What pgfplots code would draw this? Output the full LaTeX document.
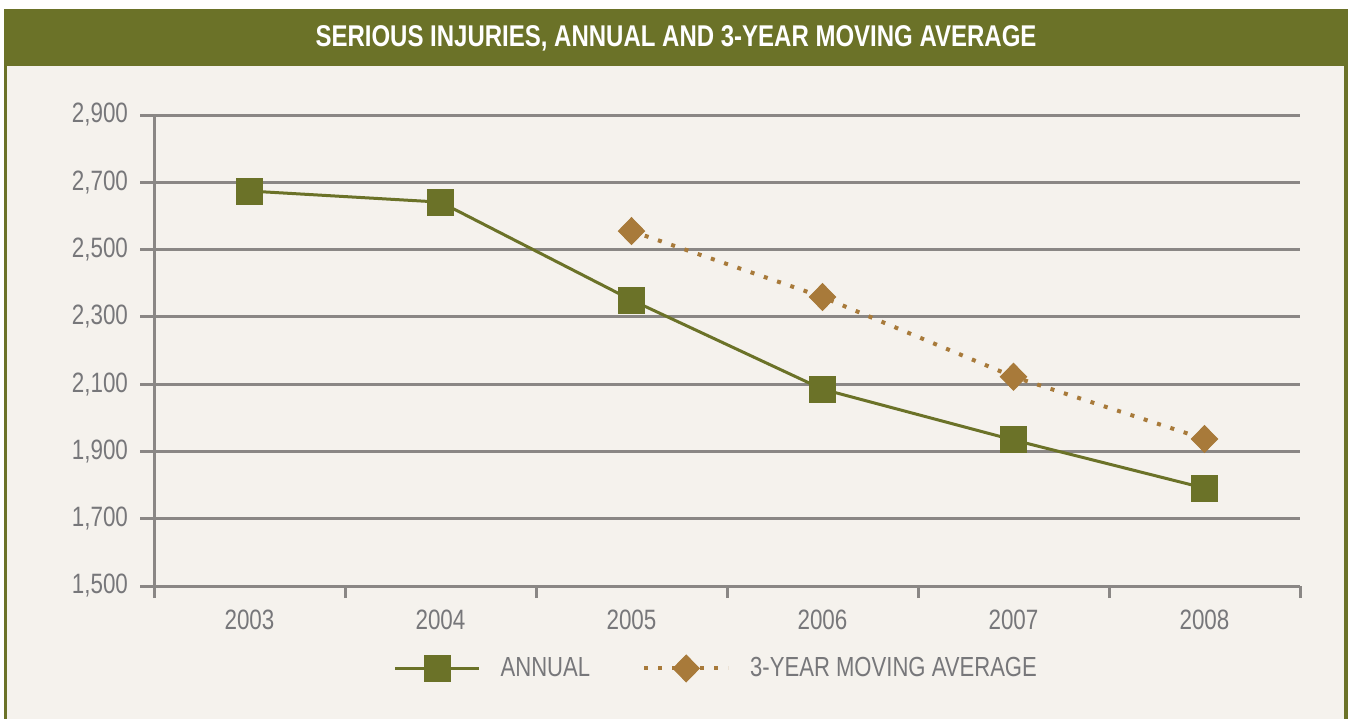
\documentclass[border=0pt]{standalone}
\usepackage{pgfplots}
\pgfplotsset{compat=1.18}
\usepackage{fontspec}
\setmainfont{Liberation Sans}[FakeStretch=0.8]
\definecolor{olive}{HTML}{6B7228}
\definecolor{bronze}{HTML}{A87A3A}
\definecolor{paper}{HTML}{F5F2ED}
\definecolor{rule}{HTML}{8A8785}
\definecolor{ink}{HTML}{77777A}
\begin{document}
\begin{tikzpicture}
% frame, 1 px of the reference = 0.5pt, origin at the axis corner
\fill[white] (-77pt,-66.5pt) rectangle (599pt,293pt);
\fill[olive] (-75pt,-66.5pt) rectangle (597pt,288.5pt);
\fill[paper] (-73.5pt,-66.5pt) rectangle (595pt,260pt);
\node[text=white, font=\bfseries\fontsize{15}{17}\selectfont] at (261pt,274pt)
  {SERIOUS INJURIES, ANNUAL AND 3-YEAR MOVING AVERAGE};
\begin{axis}[
    scale only axis,
    width=573pt, height=235.5pt,
    xmin=-0.5, xmax=5.5, ymin=1500, ymax=2900,
    axis x line*=bottom, axis y line*=left,
    axis line style={rule, line width=1.5pt, -},
    xtick={0,...,5},
    xticklabels={2003,2004,2005,2006,2007,2008},
    minor xtick={-0.5,0.5,...,5.5},
    major x tick style={draw=none},
    minor x tick style={rule, line width=1.5pt},
    minor tick length=6pt,
    ytick={1500,1700,...,2900},
    y tick style={rule, line width=1.5pt},
    major tick length=7pt,
    tick align=outside,
    ymajorgrids=true,
    grid style={rule, line width=1.5pt},
    /pgf/number format/assume math mode=true,
    /pgf/number format/1000 sep={,},
    tick label style={text=ink, font=\fontsize{14}{16}\selectfont},
    yticklabel style={xshift=-2.5pt},
    xticklabel style={yshift=-1.5pt},
    clip=false,
    legend columns=2,
    legend style={draw=none, fill=none, at={(0.4915,-0.175)}, anchor=center,
      text=ink, font=\fontsize{13.8}{16}\selectfont,
      /tikz/every odd column/.append style={column sep=8pt},
      /tikz/every even column/.append style={column sep=24pt}},
    legend image code/.code={\draw[mark repeat=2,mark phase=2,#1]
      plot coordinates {(0pt,0pt) (21pt,0pt) (42pt,0pt)};},
  ]
\addplot[olive, line width=1.5pt, mark=square*, mark size=6.5pt,
  mark options={fill=olive, draw=olive, solid, line width=0.5pt}] coordinates {
  (0,2674) (1,2641) (2,2350) (3,2085) (4,1934) (5,1791)};
\addlegendentry{ANNUAL}
\addplot[bronze, line width=2pt, dash pattern=on 2pt off 5pt,
  mark=diamond*, mark size=6.7pt,
  mark options={fill=bronze, draw=bronze, solid, line width=0.5pt, xscale=1.3}] coordinates {
  (2,2555) (3,2359) (4,2122) (5,1937)};
\addlegendentry{3-YEAR MOVING AVERAGE}
\end{axis}
\end{tikzpicture}
\end{document}
